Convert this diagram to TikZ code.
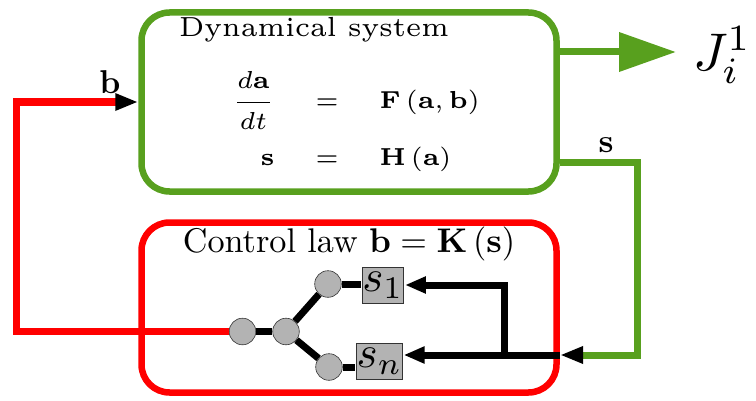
\documentclass[tikz,border=0pt]{standalone}
\usepackage{amsmath}
\usepackage{xcolor}
\usetikzlibrary{arrows.meta, positioning}
\definecolor{sysgreen}{HTML}{58A01E}
\definecolor{lawred}{HTML}{FF0000}
\definecolor{unitgray}{HTML}{B3B3B3}
\tikzset{
  sysbox/.style={rounded corners=28pt, draw=sysgreen, line width=6.5pt},
  lawbox/.style={rounded corners=28pt, draw=lawred, line width=6.5pt},
  lbl/.style={inner sep=0pt, scale=3.3, transform shape},
  lawlbl/.style={inner sep=0pt, scale=3.42, transform shape},
  titlelbl/.style={inner sep=0pt, font=\fontsize{6}{7}\selectfont, scale=4.6, transform shape},
  eqlbl/.style={inner sep=0pt, font=\fontsize{6}{7}\selectfont, scale=4.1, transform shape},
  jlbl/.style={inner sep=0pt, scale=5.3, transform shape},
  unit/.style={circle, draw=black!80, line width=0.6pt, fill=unitgray, minimum size=26.6pt, inner sep=0pt},
  sensor/.style={draw=black!80, line width=0.6pt, fill=unitgray, inner sep=0pt, minimum width=8.9pt, minimum height=8pt, scale=4.5, transform shape},
  wire/.style={line width=7pt},
  tip/.style={-{Triangle[length=21pt, width=16pt]}}
}
\begin{document}
\begin{tikzpicture}[x=1pt,y=1pt]
\useasboundingbox (0,0) rectangle (756,400);

\node[sysbox, minimum width=415pt, minimum height=179pt] (sys) at (349,298) {};
\node[lawbox, minimum width=415pt, minimum height=170pt] (law) at (349,92.5) {};

\node[titlelbl, anchor=base] (systitle) at (314,363.5) {Dynamical system};
\node[eqlbl] (syseq) at (356,277) {$\begin{array}{rcl}
  \dfrac{d\mathbf{a}}{dt} & = & \mathbf{F}\left(\mathbf{a},\mathbf{b}\right)\\[7pt]
  \mathbf{s} & = & \mathbf{H}\left(\mathbf{a}\right)
\end{array}$};
\node[lawlbl, anchor=base] (lawtitle) at (349,148) {Control law $\mathbf{b}=\mathbf{K}\left(\mathbf{s}\right)$};

\node[unit] (c1) at (242.5,68.5) {};
\node[unit] (c2) at (286,68.5) {};
\node[unit] (c3) at (328,116) {};
\node[unit] (c4) at (329,33) {};
\node[sensor] (s1) at (383,115) {$s_1$};
\node[sensor] (sn) at (379.5,39) {$s_n$};

\coordinate (yout) at (676,348);
\coordinate (sbend) at (637,45);
\coordinate (sin) at (560,45);
\coordinate (fork) at (504,45);
\coordinate (rbend) at (16,68.5);

\draw[wire, sysgreen, -{Triangle[length=57pt, width=38pt]}] (sys.east |- yout) -- (yout);
\draw[wire, sysgreen, -{Triangle[black, length=23pt, width=16pt]}] ([yshift=-60pt]sys.east) -| (sbend) -- (sin);
\draw[wire, tip] (sin) -- (sin -| sn.east);
\draw[wire, tip] (fork) |- (s1.east);
\draw[wire] (c1) -- (c2);
\draw[wire] (c2) -- (c3);
\draw[wire] (c2) -- (c4);
\draw[wire] (c3) -- (c3 -| s1.west);
\draw[wire] (c4) -- (c4 -| sn.west);
\draw[wire, lawred, -{Triangle[black, length=23pt, width=16pt]}] (c1.west) -- (rbend) |- (sys.west);

\node[lbl, anchor=base] (blbl) at (110,307) {$\mathbf{b}$};
\node[lbl, anchor=base] (slbl) at (606,248) {$\mathbf{s}$};
\node[jlbl, anchor=base west] (jval) at (692,330) {$J_i^1$};

\end{tikzpicture}
\end{document}
